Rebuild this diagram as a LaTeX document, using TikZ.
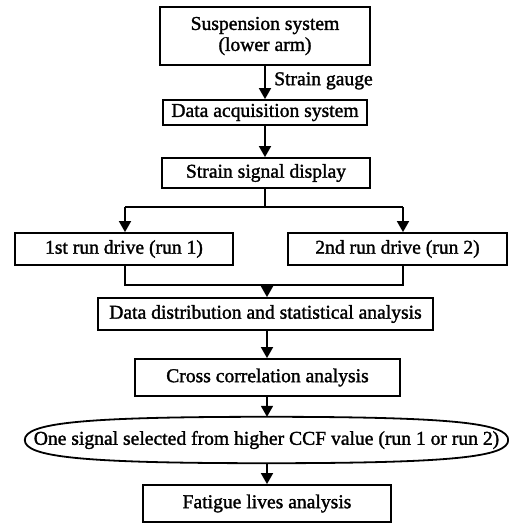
\documentclass[tikz,border=0pt]{standalone}
\usepackage{fontspec}
\setmainfont{Liberation Serif}
\newfontfamily\heavyserif[FakeBold=1.5]{Liberation Serif}
\usetikzlibrary{shapes.geometric,arrows.meta}
\tikzset{
  txt/.style={font=\heavyserif\fontsize{19.6}{21}\selectfont},
  box/.style={draw, line width=1.8pt, inner sep=0pt, align=center, txt},
  oval/.style={ellipse, inner sep=0pt, txt},
  arr/.style={line width=1.8pt, -{Triangle[width=12pt,length=11pt]}},
  ln/.style={line width=1.8pt},
}
\begin{document}
\begin{tikzpicture}[x=1pt,y=1pt]
\useasboundingbox (0,0) rectangle (509,-523);
\node[box, minimum width=210, minimum height=58] (susp) at (265,-36) {Suspension system\\(lower arm)};
\node[box, minimum width=204, minimum height=25] (daq) at (265,-112.5) {Data acquisition system};
\node[box, minimum width=208, minimum height=30] (ssd) at (266,-173) {Strain signal display};
\node[box, minimum width=218, minimum height=32] (run1) at (124,-249) {1st run drive (run 1)};
\node[box, minimum width=219, minimum height=32] (run2) at (397.5,-249) {2nd run drive (run 2)};
\node[box, minimum width=335, minimum height=32] (dd) at (265.5,-314) {Data distribution and statistical analysis};
\node[box, minimum width=265, minimum height=37] (cca) at (267.5,-377.5) {Cross correlation analysis};
\node[oval, minimum width=483, minimum height=46] (sel) at (266.5,-440) {\makebox[0pt]{One signal selected from higher CCF value (run 1 or run 2)}};
\draw[ln] (sel.west) .. controls +(0,17) and +(-185,0) .. (sel.north)
  .. controls +(185,0) and +(0,17) .. (sel.east)
  .. controls +(0,-17) and +(185,0) .. (sel.south)
  .. controls +(-185,0) and +(0,-17) .. (sel.west) -- cycle;
\node[box, minimum width=248, minimum height=37] (fat) at (267,-503.5) {Fatigue lives analysis};
\coordinate (xa) at (265,0);
\coordinate (xb) at (267,0);
\coordinate (xl) at (125,0);
\coordinate (xr) at (403,0);
\coordinate (split) at (265,-207);
\coordinate (merge) at (267,-285);
\draw[arr] (susp.south -| xa) -- node[right=5pt, pos=0.45, txt] (sg) {Strain gauge} (daq.north -| xa);
\draw[arr] (daq.south -| xa) -- (ssd.north -| xa);
\draw[ln] (ssd.south -| xa) -- (split);
\draw[arr] (split -| xl) -- (run1.north -| xl);
\draw[arr] (split -| xr) -- (run2.north -| xr);
\draw[ln] (split -| xl) -- (split -| xr);
\draw[ln] (run1.south -| xl) -- (merge -| xl) -- (merge -| xr) -- (run2.south -| xr);
\draw[arr] (merge) -- (dd.north -| xb);
\draw[arr] (dd.south -| xb) -- (cca.north -| xb);
\draw[arr] (cca.south -| xb) -- (sel.north -| xb);
\draw[arr] (sel.south -| xb) -- (fat.north -| xb);
\end{tikzpicture}
\end{document}
